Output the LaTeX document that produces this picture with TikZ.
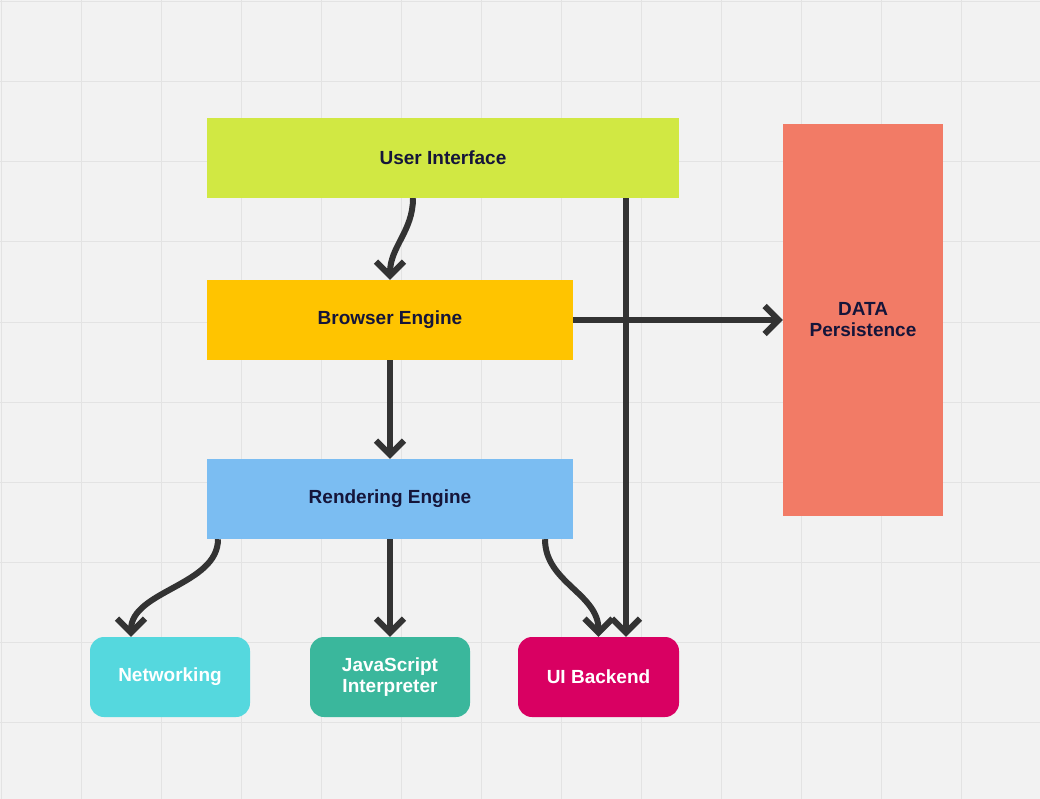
\documentclass[tikz,border=0pt]{standalone}
\usepackage{fontspec}
\setmainfont{Liberation Sans}
\usetikzlibrary{arrows.meta}
\definecolor{bg}{HTML}{F2F2F2}
\definecolor{gridc}{HTML}{E3E3E3}
\definecolor{lime}{HTML}{D1E843}
\definecolor{amber}{HTML}{FFC400}
\definecolor{skyb}{HTML}{7BBDF2}
\definecolor{salmon}{HTML}{F27B66}
\definecolor{cyanb}{HTML}{55D8DE}
\definecolor{teal}{HTML}{3AB79C}
\definecolor{magenta}{HTML}{D90062}
\definecolor{darktxt}{HTML}{15153A}
\definecolor{linec}{HTML}{333333}
\begin{document}
\begin{tikzpicture}[x=1pt,y=-1pt,
  blk/.style={draw=none,inner sep=0pt,minimum height=80pt,align=center,
    font=\fontsize{19}{21}\selectfont\bfseries},
  topbox/.style={blk,text=darktxt},
  botbox/.style={blk,text=white,rounded corners=14pt,minimum width=160pt},
  conn/.style={draw=linec,line width=6pt,-{Straight Barb[length=14pt,width=28pt,line width=0pt 1]}}]
\fill[bg] (0,0) rectangle (1040,799);
\useasboundingbox (0,0) rectangle (1040,799);
\foreach \x in {1,81,...,1040} \draw[gridc,line width=1pt] (\x,0) -- (\x,799);
\foreach \y in {2,82,...,799} \draw[gridc,line width=1pt] (0,\y) -- (1040,\y);

\node[topbox,fill=lime,minimum width=472pt] (ui) at (443,158) {User Interface};
\node[topbox,fill=amber,minimum width=366pt] (be) at (390,320) {Browser Engine};
\node[topbox,fill=skyb,minimum width=366pt] (re) at (390,499) {Rendering Engine};
\node[topbox,fill=salmon,minimum width=160pt,minimum height=392pt] (dp) at (863,320) {DATA\\Persistence};
\node[botbox,fill=cyanb] (net) at (170,677) {Networking};
\node[botbox,fill=teal] (js) at (390,677) {JavaScript\\Interpreter};
\node[botbox,fill=magenta,minimum width=161pt] (uib) at (598.5,677) {UI Backend};

\draw[conn] ([xshift=-30pt]ui.south) to[out=-90,in=90] (be.north);
\draw[conn] ([xshift=183pt]ui.south) -- ([xshift=27.5pt]uib.north);
\draw[conn] (be.east) -- (dp.west);
\draw[conn] (be.south) -- (re.north);
\draw[conn] ([xshift=-172pt]re.south) to[out=-90,in=90,looseness=0.9] ([xshift=-39pt]net.north);
\draw[conn] (re.south) -- (js.north);
\draw[conn] ([xshift=155pt]re.south) to[out=-90,in=90] (uib.north);
\end{tikzpicture}
\end{document}
